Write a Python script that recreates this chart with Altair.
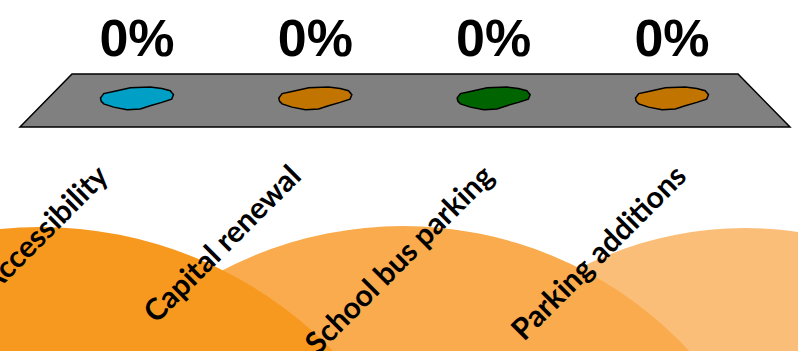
import altair as alt
import pandas as pd

# Series: share of spending by category
categories = ["Accessibility", "Capital renewal", "School bus parking", "Parking additions"]
shares = [0.0, 0.0, 0.0, 0.0]
bar_colors = ["#00A0C6", "#C27400", "#006400", "#C27400"]

# Decorative orange discs behind the category labels (canvas pixels)
disc_cx = [40, 403, 745]
disc_cy = [635, 616, 589]
disc_r = [408, 390, 361]
disc_colors = ["#F7991F", "#F9AB4D", "#FBBE78"]

W, H = 798, 351

bars = pd.DataFrame({"category": categories, "share": shares})

discs = pd.DataFrame({"cx": disc_cx, "cy": disc_cy, "r": disc_r, "color": disc_colors})
discs["size"] = (2 * discs["r"]) ** 2
discs = discs.iloc[::-1].reset_index(drop=True)  # rightmost disc drawn first

floor = pd.DataFrame({"cx": [405], "cy": [100.5], "size": [770 ** 2]})

canvas_x = alt.Scale(domain=[0, W], nice=False, zero=False)
canvas_y = alt.Scale(domain=[0, H], nice=False, zero=False, reverse=True)

# trapezoid floor in perspective, and a lumpy zero-height bar footprint
FLOOR_PATH = "M-0.865,-0.0688L0.865,-0.0688L1,0.0688L-1,0.0688Z"
BLOB_PATH = ("M-1,0L-0.91,-0.12L-0.64,-0.18L-0.18,-0.28L0.36,-0.30L0.68,-0.26"
             "L0.91,-0.2L1,-0.09L0.95,0.03L0.68,0.12L0.36,0.21L0.09,0.30"
             "L-0.27,0.32L-0.64,0.25L-0.91,0.16L-0.98,0.09Z")

disc_layer = alt.Chart(discs).mark_point(
    shape="circle", filled=True, opacity=1, strokeWidth=0, clip=True
).encode(
    x=alt.X("cx:Q", scale=canvas_x, axis=None),
    y=alt.Y("cy:Q", scale=canvas_y, axis=None),
    size=alt.Size("size:Q", scale=None, legend=None),
    fill=alt.Fill("color:N", scale=None, legend=None),
)

floor_layer = alt.Chart(floor).mark_point(
    shape=FLOOR_PATH, filled=True, opacity=1, fill="#808080",
    stroke="black", strokeWidth=1.5
).encode(
    x=alt.X("cx:Q", scale=canvas_x, axis=None),
    y=alt.Y("cy:Q", scale=canvas_y, axis=None),
    size=alt.Size("size:Q", scale=None, legend=None),
)

bar_x = alt.Scale(type="point", domain=categories, range=[137, 672], padding=0)
bar_y = alt.Scale(domain=[0, 1], range=[98, 0])

blob_layer = alt.Chart(bars).mark_point(
    shape=BLOB_PATH, filled=True, opacity=1, size=73 ** 2,
    stroke="black", strokeWidth=1.5
).encode(
    x=alt.X("category:N", scale=bar_x, axis=None),
    y=alt.Y("share:Q", scale=bar_y, axis=None),
    fill=alt.Fill("category:N", scale=alt.Scale(domain=categories, range=bar_colors), legend=None),
)

pct_layer = alt.Chart(bars).mark_text(
    dy=-42, baseline="alphabetic", align="center",
    font="Liberation Sans", fontWeight="bold", fontSize=52, color="black"
).encode(
    x=alt.X("category:N", scale=bar_x, axis=None),
    y=alt.Y("share:Q", scale=bar_y, axis=None),
    text=alt.Text("share:Q", format=".0%"),
)

label_x = alt.Scale(type="point", domain=categories, range=[110, 688], padding=0)

label_layer = alt.Chart(bars).mark_text(
    angle=315, align="right", baseline="alphabetic",
    font="Lato", fontWeight="bold", fontSize=30, color="black"
).encode(
    x=alt.X("category:N", scale=label_x, axis=None),
    y=alt.value(178),
    text="category:N",
)

chart = alt.layer(
    disc_layer, floor_layer, blob_layer, pct_layer, label_layer
).resolve_scale(
    x="independent", y="independent", fill="independent", size="independent"
).properties(
    width=W, height=H, padding=0, autosize="none"
).configure_view(strokeWidth=0)

chart.save("out.html", embed_options={"renderer": "svg", "actions": False})
